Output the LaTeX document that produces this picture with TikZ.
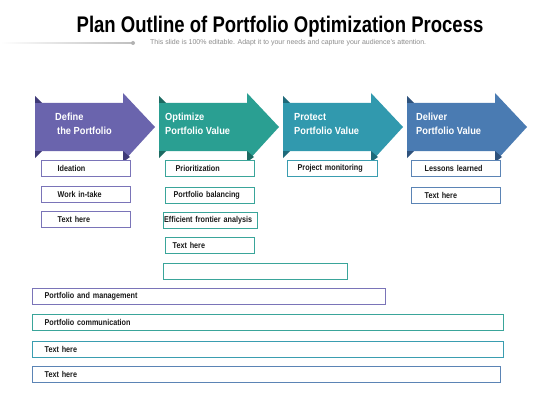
\documentclass[tikz,border=0pt]{standalone}
\usepackage{fontspec}
\setmainfont{Liberation Sans}
\newfontfamily\narrowf[FakeStretch=0.82]{Liberation Sans}
\newfontfamily\boxf[FakeStretch=0.85]{Liberation Sans}
\newfontfamily\arrowf[FakeStretch=0.9]{Liberation Sans}
\definecolor{cA}{HTML}{6A64AD}
\definecolor{cAd}{HTML}{3F3A78}
\definecolor{cAb}{HTML}{7A74B8}
\definecolor{cB}{HTML}{2A9F92}
\definecolor{cBd}{HTML}{1B6A62}
\definecolor{cBb}{HTML}{3AA59A}
\definecolor{cC}{HTML}{3199AE}
\definecolor{cCd}{HTML}{1E6A7A}
\definecolor{cCb}{HTML}{3A9DB0}
\definecolor{cD}{HTML}{4A7BB2}
\definecolor{cDd}{HTML}{2E527D}
\definecolor{cDb}{HTML}{5B84B5}
\tikzset{
  cbox/.style={draw=#1, line width=1.3pt, fill=white, minimum height=16pt,
    anchor=north west, align=left, inner ysep=0pt, text=black!90,
    font=\boxf\bfseries\fontsize{8.5}{9}\selectfont},
  atext/.style={anchor=north west, align=left, text=white, inner sep=0pt,
    font=\arrowf\bfseries\fontsize{10.3}{14}\selectfont}
}
\newcommand\procarrow[3]{%
  \begin{scope}[xshift=#1pt]
    \fill[#2] (0,103) -- (88,103) -- (88,93) -- (120,127) -- (88,162) -- (88,151) -- (0,151) -- cycle;
    \fill[#3] (0,96) -- (7,103) -- (0,103) -- cycle;
    \fill[#3] (0,151) -- (7,151) -- (0,158) -- cycle;
    \fill[#3] (88,151) -- (88,162) -- (95,157) -- cycle;
  \end{scope}}
\begin{document}
\begin{tikzpicture}[x=1pt,y=-1pt]
\useasboundingbox (0,0) rectangle (560,420);
\fill[white] (0,0) rectangle (560,420);
% title
\node[font=\narrowf\bfseries\fontsize{22.6}{26}\selectfont, inner sep=0pt] (title) at (280,27) {Plan Outline of Portfolio Optimization Process};
\shade[left color=white, right color=black!25] (0,42.5) rectangle (133,43.5);
\fill[black!30] (133,43) circle (2pt);
\node[font=\fontsize{7}{8}\selectfont, text=black!45, anchor=west, inner sep=0pt] (sub) at (150,43) {This slide is 100\% editable. Adapt it to your needs and capture your audience’s attention.};
% arrows
\procarrow{35}{cA}{cAd}
\procarrow{159}{cB}{cBd}
\procarrow{283}{cC}{cCd}
\procarrow{407}{cD}{cDd}
\node[atext] (a1) at (55,113) {Define\\\hspace{2pt}the Portfolio};
\node[atext] (a2) at (165,113) {Optimize\\Portfolio Value};
\node[atext] (a3) at (294,113) {Protect\\Portfolio Value};
\node[atext] (a4) at (416,113) {Deliver\\Portfolio Value};
% column 1
\node[cbox=cAb, text width=57pt, inner xsep=16pt] (i1) at (41,160) {Ideation};
\node[cbox=cAb, text width=57pt, inner xsep=16pt] (i2) at (41,186) {Work in-take};
\node[cbox=cAb, text width=57pt, inner xsep=16pt] (i3) at (41,211) {Text here};
% column 2
\node[cbox=cBb, text width=69pt, inner xsep=10pt] (o1) at (165,160) {Prioritization};
\node[cbox=cBb, text width=73pt, inner xsep=8pt] (o2) at (165,187) {Portfolio balancing};
\node[cbox=cBb, text width=93pt, inner xsep=0.5pt] (o3) at (163,212) {Efficient frontier analysis};
\node[cbox=cBb, text width=75pt, inner xsep=7pt] (o4) at (165,237) {Text here};
\node[cbox=cBb, minimum width=184pt] (o5) at (163,263) {};
% column 3
\node[cbox=cCb, text width=70pt, inner xsep=10pt] (p1) at (287,160) {Project monitoring};
% column 4
\node[cbox=cDb, text width=63pt, inner xsep=13pt] (d1) at (411,160) {Lessons learned};
\node[cbox=cDb, text width=63pt, inner xsep=13pt] (d2) at (411,187) {Text here};
% wide boxes
\node[cbox=cAb, text width=329pt, inner xsep=12pt] (w1) at (32,288) {Portfolio and management};
\node[cbox=cBb, text width=447pt, inner xsep=12pt] (w2) at (32,314) {Portfolio communication};
\node[cbox=cCb, text width=447pt, inner xsep=12pt] (w3) at (32,341) {Text here};
\node[cbox=cDb, text width=444pt, inner xsep=12pt] (w4) at (32,366) {Text here};
\end{tikzpicture}
\end{document}
